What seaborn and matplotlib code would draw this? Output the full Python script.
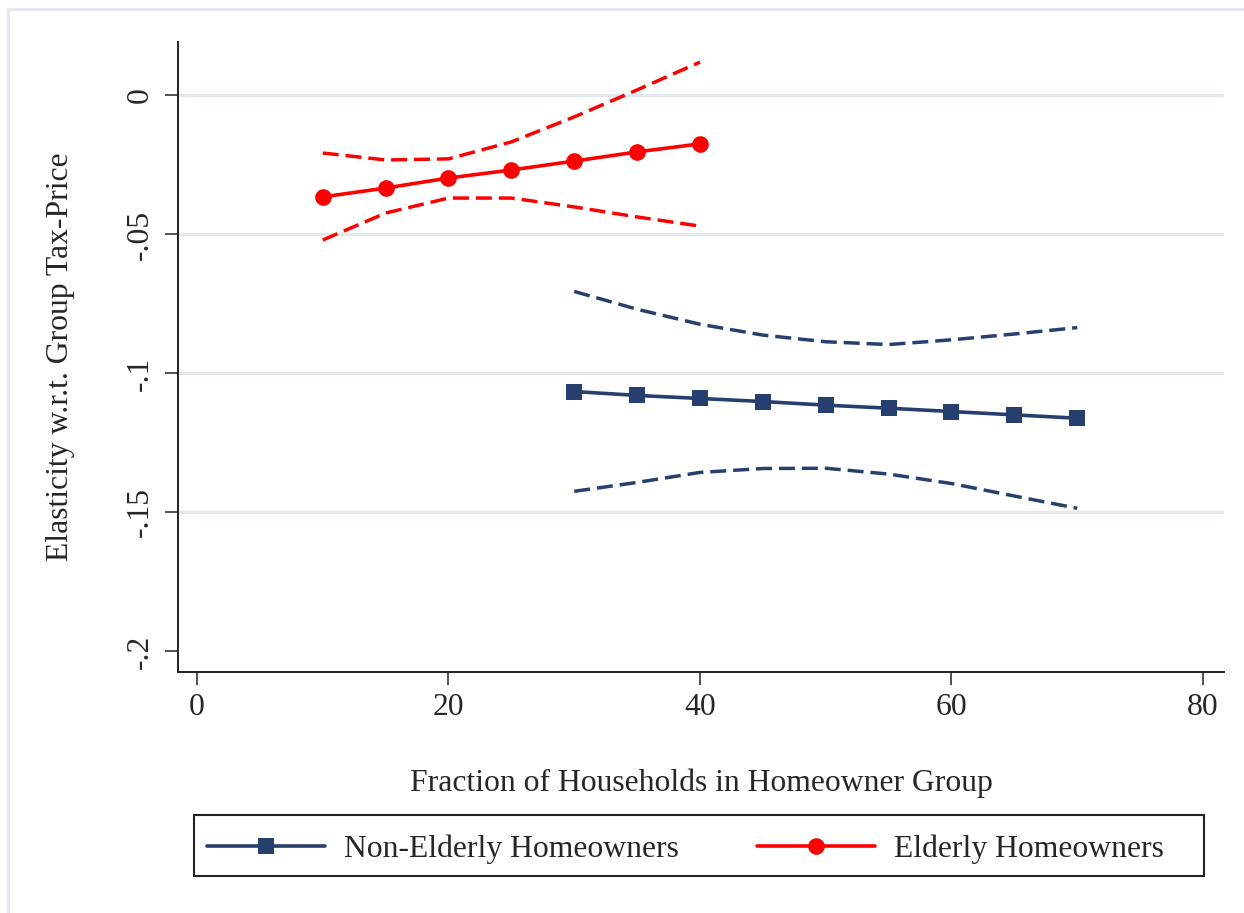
import matplotlib
matplotlib.use("Agg")
import matplotlib.pyplot as plt
import seaborn as sns
import pandas as pd
from matplotlib.patches import Rectangle

# ---- data ----
x_elderly = [10, 15, 20, 25, 30, 35, 40]
elderly_est = [-0.0365, -0.0333, -0.0297, -0.0268, -0.0236, -0.0203, -0.0174]
elderly_hi = [-0.0207, -0.0232, -0.0228, -0.0167, -0.0077, 0.0020, 0.0120]
elderly_lo = [-0.0520, -0.0423, -0.0369, -0.0369, -0.0401, -0.0437, -0.0470]

x_nonelderly = [30, 35, 40, 45, 50, 55, 60, 65, 70]
nonelderly_est = [-0.1065, -0.1079, -0.1090, -0.1101, -0.1114, -0.1125, -0.1137, -0.1149, -0.1161]
nonelderly_hi = [-0.0705, -0.0769, -0.0823, -0.0862, -0.0886, -0.0896, -0.0879, -0.0858, -0.0835]
nonelderly_lo = [-0.1424, -0.1392, -0.1356, -0.1342, -0.1341, -0.1362, -0.1396, -0.1441, -0.1485]

x_ticks = [0, 20, 40, 60, 80]
y_ticks = [0, -0.05, -0.1, -0.15, -0.2]
y_ticklabels = ["0", "-.05", "-.1", "-.15", "-.2"]

x_title = "Fraction of Households in Homeowner Group"
y_title = "Elasticity w.r.t. Group Tax-Price"
label_non = "Non-Elderly Homeowners"
label_eld = "Elderly Homeowners"

NAVY = "#263f6e"
RED = "#ff0000"
GRID = "#e3e7f0"

sns.set_style("white")
plt.rcParams["font.family"] = ["Liberation Serif", "DejaVu Serif"]
FS = 22.8

W, H = 1244, 913
fig = plt.figure(figsize=(W / 100, H / 100), dpi=100)
ax = fig.add_axes([178 / W, 1 - 672 / H, (1224 - 178) / W, (672 - 42) / H])

# outer light frame
fig.patches.append(Rectangle((8 / W, -0.05), 1.2, 1 - 9 / H + 0.05, transform=fig.transFigure,
                             fill=False, edgecolor="#e4e8f1", linewidth=2.2, zorder=0))

for yv in y_ticks[:-1]:
    ax.axhline(yv, color=GRID, lw=2.2, zorder=0)

df_non = pd.DataFrame({"x": x_nonelderly, "est": nonelderly_est, "hi": nonelderly_hi, "lo": nonelderly_lo})
df_eld = pd.DataFrame({"x": x_elderly, "est": elderly_est, "hi": elderly_hi, "lo": elderly_lo})

dash = (4.6, 2.0)
for df, col in [(df_non, NAVY), (df_eld, RED)]:
    for c in ["hi", "lo"]:
        sns.lineplot(data=df, x="x", y=c, ax=ax, color=col, lw=2.5, dashes=False,
                     linestyle=(0, dash), legend=False, zorder=2)

sns.lineplot(data=df_non, x="x", y="est", ax=ax, color=NAVY, lw=2.6, marker="s",
             markersize=11.5, markeredgewidth=0, label=label_non, zorder=3)
sns.lineplot(data=df_eld, x="x", y="est", ax=ax, color=RED, lw=2.6, marker="o",
             markersize=12, markeredgewidth=0, label=label_eld, zorder=3)

ax.set_xlim(-1.51, 81.67)
ax.set_ylim(-0.2074, 0.01924)
ax.set_xticks(x_ticks)
ax.set_xticklabels([str(v) for v in x_ticks], fontsize=FS)
ax.set_yticks(y_ticks)
ax.set_yticklabels(y_ticklabels, fontsize=FS, rotation=90, va="center")
ax.tick_params(axis="both", direction="out", length=9.4, width=1.1, color="#222222",
               left=True, bottom=True)
ax.tick_params(axis="y", pad=7)
ax.tick_params(axis="x", pad=6)
for s in ["top", "right"]:
    ax.spines[s].set_visible(False)
for s in ["left", "bottom"]:
    ax.spines[s].set_linewidth(1.4)
    ax.spines[s].set_color("#222222")
ax.set_xlabel("")
ax.set_ylabel("")

fig.text(701 / W, 1 - 783 / H, x_title, ha="center", va="center", fontsize=FS)
fig.text(61 / W, 1 - 357 / H, y_title, ha="center", va="center", rotation=90, fontsize=FS)

# legend frame
fig.patches.append(Rectangle((194 / W, 1 - 876 / H), (1204 - 194) / W, 61 / H,
                             transform=fig.transFigure, fill=False, edgecolor="#222222",
                             linewidth=1.5, zorder=5))

handles, labels = ax.get_legend_handles_labels()
ax.legend_.remove()
em = FS * 100 / 72
leg = fig.legend(handles, labels, loc="center left",
                 bbox_to_anchor=(207 / W, 1 - 849 / H), borderaxespad=0, borderpad=0,
                 ncol=2, fontsize=FS, frameon=False,
                 handlelength=118 / em, handletextpad=19 / em,
                 columnspacing=78 / em, numpoints=1)

fig.savefig("out.png", dpi=100, facecolor="white")
